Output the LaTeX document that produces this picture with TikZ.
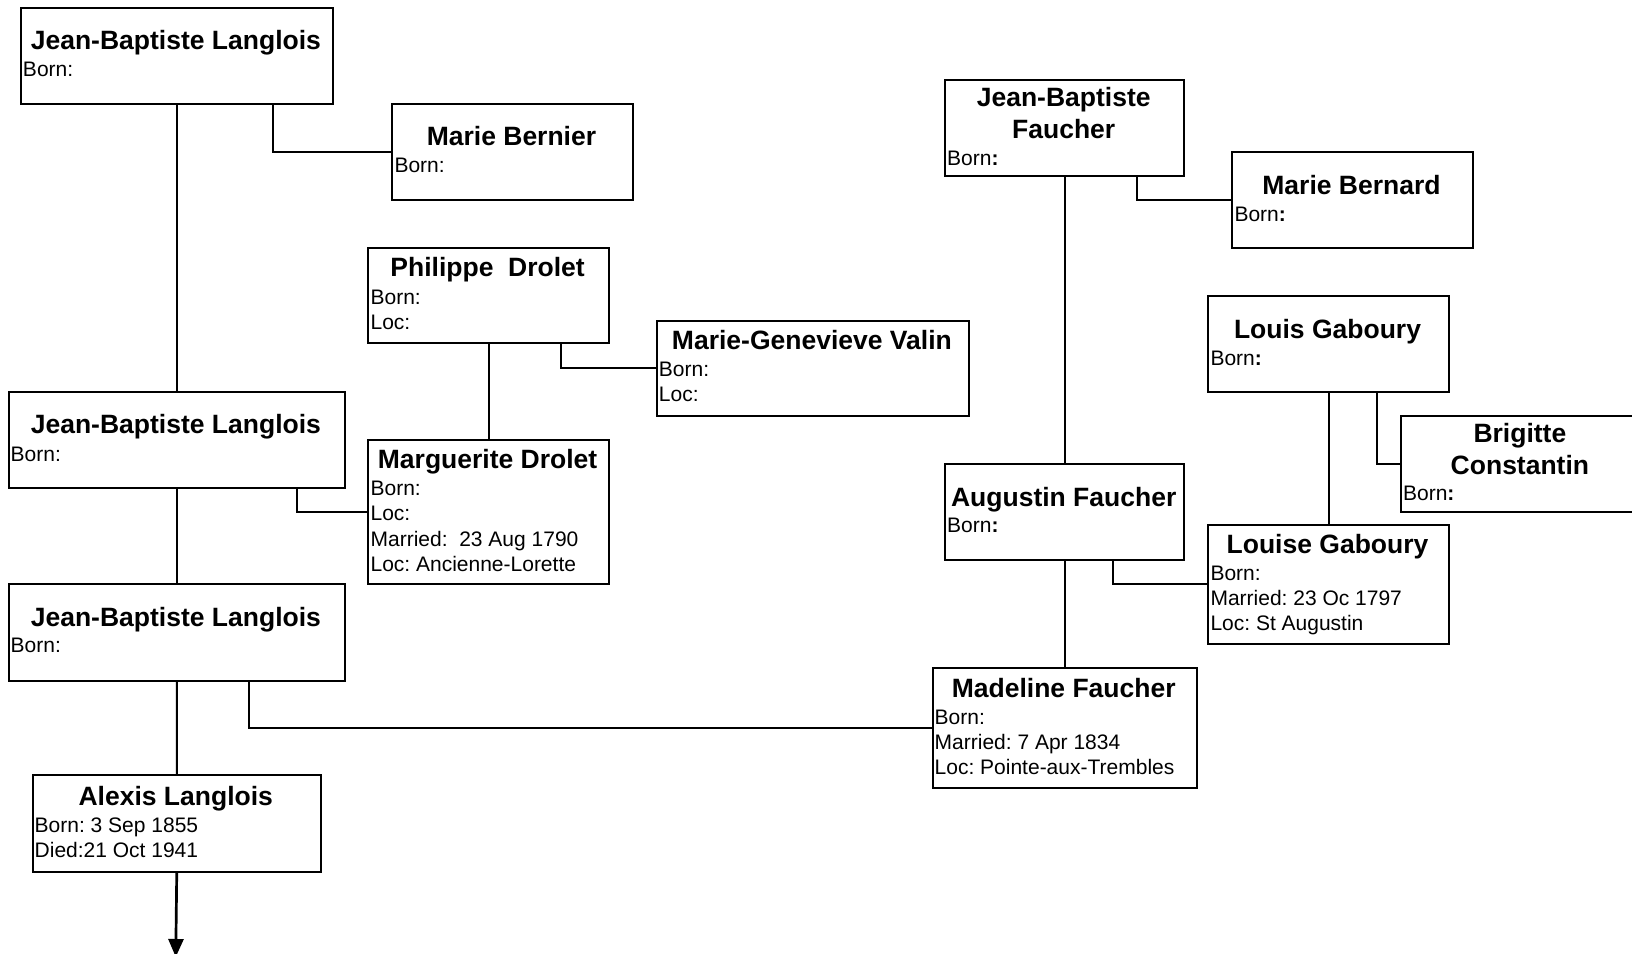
\documentclass[tikz,border=0pt]{standalone}
\usepackage{fontspec}
\setmainfont{Liberation Sans}
\usetikzlibrary{calc,arrows.meta}
\newcommand\ttlfont{\fontsize{26.5}{32}\selectfont\bfseries}
\newcommand\bdyfont{\fontsize{21}{25}\selectfont}
\frenchspacing
\tikzset{
  box/.style={draw, line width=2pt, rectangle, inner sep=0pt, anchor=north west},
  ttl/.style={anchor=base, inner sep=0pt, font=\ttlfont},
  txt/.style={anchor=base west, inner sep=0pt, font=\bdyfont},
  link/.style={line width=2pt},
}
\begin{document}
\begin{tikzpicture}[x=1pt,y=-1pt]
\useasboundingbox (0,0) rectangle (1632,953);
% boxes
\node[box, minimum width=312.2pt, minimum height=95.7pt] (jbl1) at (19.8,7.3) {};
\node[box, minimum width=240.5pt, minimum height=95.8pt] (mb) at (391.3,103.0) {};
\node[box, minimum width=240.4pt, minimum height=95.7pt] (pd) at (367.4,246.7) {};
\node[box, minimum width=312.3pt, minimum height=95.8pt] (mgv) at (655.7,319.5) {};
\node[box, minimum width=240.4pt, minimum height=143.6pt] (md) at (367.4,439.2) {};
\node[box, minimum width=336.8pt, minimum height=95.8pt] (jbl2) at (7.5,391.3) {};
\node[box, minimum width=336.8pt, minimum height=96.8pt] (jbl3) at (7.5,582.8) {};
\node[box, minimum width=288.5pt, minimum height=96.7pt] (alx) at (31.5,774.4) {};
\node[box, minimum width=239.4pt, minimum height=95.8pt] (jbf) at (944,79.1) {};
\node[box, minimum width=240.4pt, minimum height=95.8pt] (mbd) at (1231.3,150.9) {};
\node[box, minimum width=239.4pt, minimum height=95.7pt] (af) at (944,463.2) {};
\node[box, minimum width=240.5pt, minimum height=96.8pt] (lg) at (1207.3,294.5) {};
\node[box, minimum width=240pt, minimum height=95.7pt] (bc) at (1399.9,415.3) {};
\node[box, minimum width=240.5pt, minimum height=119.7pt] (lsg) at (1207.3,523.5) {};
\node[box, minimum width=264.4pt, minimum height=119.6pt] (mf) at (931.5,667.2) {};
% titles
\node[ttl] (jbl1t) at (175.9,49.8) {Jean-Baptiste Langlois};
\node[ttl] (mbt) at (511.5,145.5) {Marie Bernier};
\node[ttl] (pdt) at (487.6,276.7) {Philippe~ Drolet};
\node[ttl] (mgvt) at (811.9,349.5) {Marie-Genevieve Valin};
\node[ttl] (mdt) at (487.6,468.2) {Marguerite Drolet};
\node[ttl] (jbl2t) at (175.9,433.8) {Jean-Baptiste Langlois};
\node[ttl] (jbl3t) at (175.9,626.4) {Jean-Baptiste Langlois};
\node[ttl] (alxt) at (175.75,805.4) {Alexis Langlois};
\node[ttl] (jbft1) at (1063.7,106) {Jean-Baptiste};
\node[ttl] (jbft2) at (1063.7,138.3) {Faucher};
\node[ttl] (mbdt) at (1351.5,194.5) {Marie Bernard};
\node[ttl] (aft) at (1063.7,506.7) {Augustin Faucher};
\node[ttl] (lgt) at (1327.5,338.1) {Louis Gaboury};
\node[ttl] (bct1) at (1519.9,442.2) {Brigitte};
\node[ttl] (bct2) at (1519.9,474.4) {Constantin};
\node[ttl] (lsgt) at (1327.5,553.5) {Louise Gaboury};
\node[ttl] (mft) at (1063.7,697.2) {Madeline Faucher};
% body lines
\node[txt] (jbl1b) at (22.8,76.9) {Born:};
\node[txt] (mbb) at (394.3,172.7) {Born:};
\node[txt] (pdb) at (370.4,304.9) {Born:};
\node[txt] (pdl) at (370.4,329.8) {Loc:};
\node[txt] (mgvb) at (658.7,376.7) {Born:};
\node[txt] (mgvl) at (658.7,401.7) {Loc:};
\node[txt] (mdb) at (370.4,495.3) {Born:};
\node[txt] (mdl) at (370.4,520.3) {Loc:};
\node[txt] (mdm) at (370.4,546.3) {Married:~ 23 Aug 1790};
\node[txt] (mdl2) at (370.4,571.3) {Loc: Ancienne-Lorette};
\node[txt] (jbl2b) at (10.5,461) {Born:};
\node[txt] (jbl3b) at (10.5,652.5) {Born:};
\node[txt] (alxb) at (34.5,832.6) {Born: 3 Sep 1855};
\node[txt] (alxd) at (34.5,857.3) {Died:21 Oct 1941};
\node[txt] (jbfb) at (947,165.4) {Born\textbf{:}};
\node[txt] (mbdb) at (1234.3,221.6) {Born\textbf{:}};
\node[txt] (afb) at (947,532.8) {Born\textbf{:}};
\node[txt] (lgb) at (1210.3,365.2) {Born\textbf{:}};
\node[txt] (bcb) at (1402.9,500.5) {Born\textbf{:}};
\node[txt] (lsgb) at (1210.3,580.7) {Born:};
\node[txt] (lsgm) at (1210.3,605.7) {Married: 23 Oc 1797};
\node[txt] (lsgl) at (1210.3,630.6) {Loc: St Augustin};
\node[txt] (mfb) at (934.5,724.3) {Born:};
\node[txt] (mfm) at (934.5,749.3) {Married: 7 Apr 1834};
\node[txt] (mfl) at (934.5,774.3) {Loc: Pointe-aux-Trembles};
% parent-child lines
\draw[link] (jbl1.south) -- (jbl2.north);
\draw[link] (jbl2.south) -- (jbl3.north);
\draw[link] (jbl3.south) -- (alx.north);
\draw[link] (pd.south) -- (md.north);
\draw[link] (jbf.south) -- (af.north);
\draw[link] (af.south) -- (mf.north);
\draw[link] (lg.south) -- (lsg.north);
% spouse lines
\draw[link] ($(jbl1.south west)!0.807!(jbl1.south east)$) |- (mb.west);
\draw[link] ($(pd.south west)!0.80!(pd.south east)$) |- (mgv.west);
\draw[link] ($(jbl2.south west)!0.855!(jbl2.south east)$) |- (md.west);
\draw[link] ($(jbl3.south west)!0.713!(jbl3.south east)$) |- (mf.west);
\draw[link] ($(jbf.south west)!0.80!(jbf.south east)$) |- (mbd.west);
\draw[link] ($(lg.south west)!0.70!(lg.south east)$) |- (bc.west);
\draw[link] ($(af.south west)!0.70!(af.south east)$) |- (lsg.west);
% descendant arrow
\coordinate (down) at (175.75,957);
\draw[line width=2.7pt, -{Triangle[length=18pt,width=15pt]}] (alx.south) -- (down);
\end{tikzpicture}
\end{document}
